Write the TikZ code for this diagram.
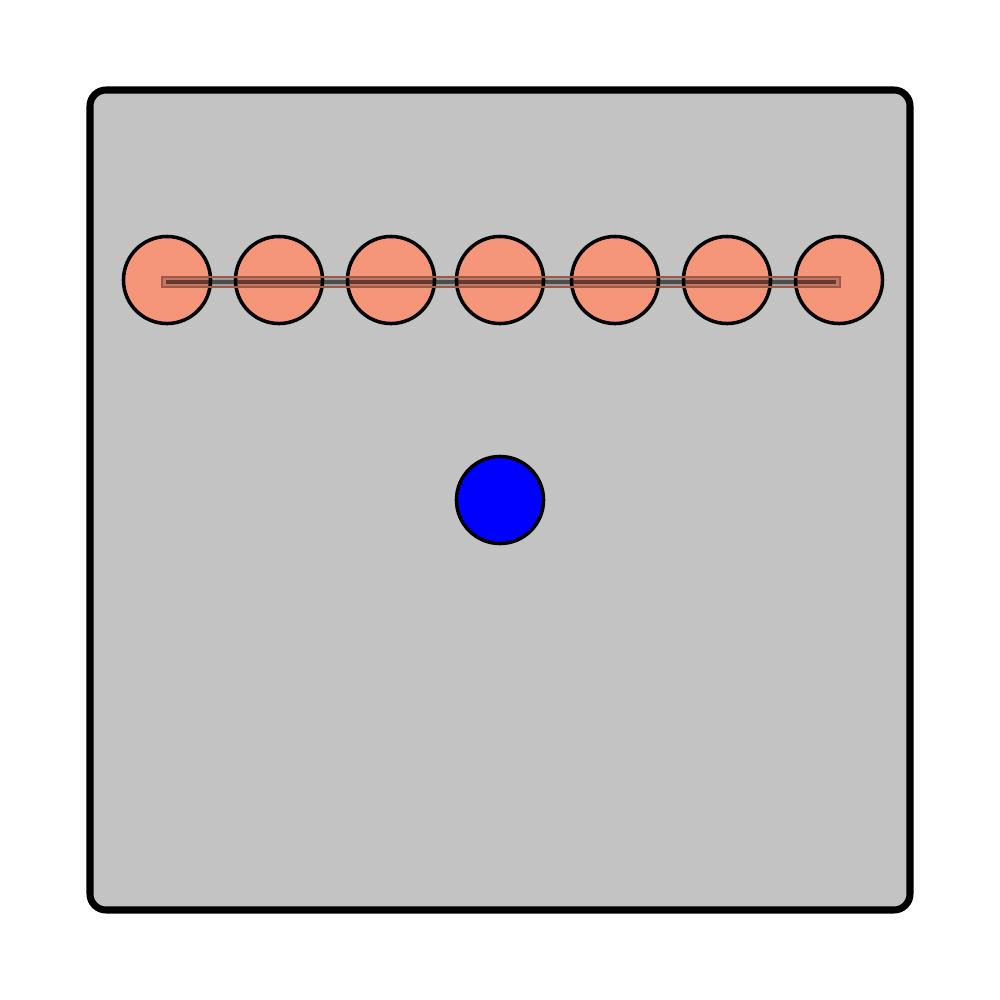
\documentclass[tikz,border=0pt]{standalone}
\usepackage{tikz}
\usetikzlibrary{positioning}

\begin{document}
\begin{tikzpicture}[x=0.01cm,y=-0.01cm]
  % Colors
  \definecolor{beadcolor}{RGB}{245,150,122}
  \definecolor{boxcolor}{RGB}{195,195,195}
  \definecolor{rodcolor}{RGB}{160,88,70}
  \colorlet{probecolor}{blue}

  % Styles
  \tikzstyle{frame}=[line width=2pt,rounded corners=0.16cm,fill=boxcolor]
  \tikzstyle{bead}=[circle,draw,line width=1pt,fill=beadcolor,minimum size=0.87cm,inner sep=0pt]
  \tikzstyle{probe}=[circle,draw,line width=1pt,fill=probecolor,minimum size=0.87cm,inner sep=0pt]
  \tikzstyle{rod}=[draw=rodcolor,line width=0.7pt,fill=black,fill opacity=0.2]

  % The graphic
  \useasboundingbox (0,0) rectangle (1000,1000);
  \draw[style=frame] (90,90) rectangle (910,910);

  \foreach \i/\x in {1/167, 2/279, 3/391, 4/500, 5/615, 6/727, 7/839}
    \node[bead] (b\i) at (\x,280) {};

  \node[probe] (q) at (500,500) {};

  % rod through the beads
  \path[style=rod] ([xshift=-0.05cm,yshift=0.03cm]b1.center) rectangle ([xshift=0.01cm,yshift=-0.07cm]b7.center);
  \draw[black,opacity=0.5,line width=1.1pt] ([xshift=-0.01cm,yshift=-0.02cm]b1.center) -- ([xshift=-0.03cm,yshift=-0.02cm]b7.center);
\end{tikzpicture}
\end{document}
